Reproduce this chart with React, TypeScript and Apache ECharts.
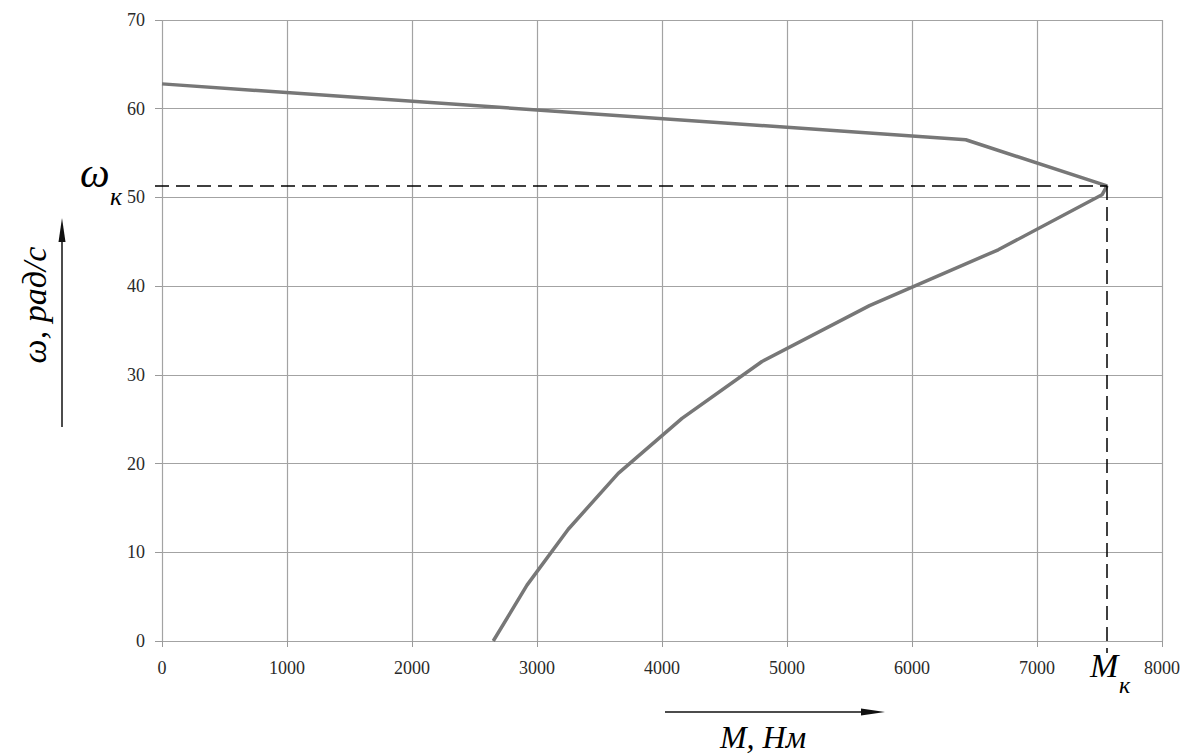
import React, { useEffect, useRef } from "react";
import * as echarts from "echarts";

const xTicks = [0, 1000, 2000, 3000, 4000, 5000, 6000, 7000, 8000];
const yTicks = [0, 10, 20, 30, 40, 50, 60, 70];
const torque = [0, 6430, 7560, 7520, 6690, 5660, 4800, 4160, 3650, 3250, 2920, 2650];
const omega = [62.8, 56.5, 51.3, 50.3, 44.1, 37.8, 31.5, 25.1, 18.9, 12.6, 6.3, 0];
const peakM = 7560;
const peakW = 51.3;

const SERIF = "'Liberation Serif', 'DejaVu Serif', serif";

export default function App() {
  const ref = useRef<HTMLDivElement>(null);
  useEffect(() => {
    if (!ref.current) return;
    const chart = echarts.init(ref.current, null, { renderer: "svg" });
    const data = torque.map((m, i) => [m, omega[i]]);
    chart.setOption({
      animation: false,
      backgroundColor: "#ffffff",
      grid: { left: 162, top: 20, width: 1000, height: 621 },
      xAxis: {
        type: "value",
        min: xTicks[0],
        max: xTicks[xTicks.length - 1],
        interval: xTicks[1] - xTicks[0],
        axisLine: { show: false },
        axisTick: { show: true, length: 6, lineStyle: { color: "#9a9a9a" } },
        splitLine: { show: true, lineStyle: { color: "#a3a3a3", width: 1.2 } },
        axisLabel: { color: "#2a2a2a", fontFamily: SERIF, fontSize: 18, margin: 18, formatter: (v: number) => String(v) },
      },
      yAxis: {
        type: "value",
        min: yTicks[0],
        max: yTicks[yTicks.length - 1],
        interval: yTicks[1] - yTicks[0],
        axisLine: { show: false },
        axisTick: { show: true, length: 7, lineStyle: { color: "#9a9a9a" } },
        splitLine: { show: true, lineStyle: { color: "#a3a3a3", width: 1.2 } },
        axisLabel: { color: "#2a2a2a", fontFamily: SERIF, fontSize: 18, margin: 17, formatter: (v: number) => String(v) },
      },
      series: [
        {
          type: "line",
          data,
          showSymbol: false,
          lineStyle: { color: "#777777", width: 3.5 },
          z: 5,
        },
      ],
    });

    const p = chart.convertToPixel({ gridIndex: 0 }, [peakM, peakW]) as number[];
    const base = chart.convertToPixel({ gridIndex: 0 }, [peakM, 0]) as number[];
    const dash = { stroke: "#000", lineWidth: 1.5, lineDash: [14, 7] };
    chart.setOption({
      graphic: [
        { type: "line", shape: { x1: 155, y1: p[1], x2: p[0], y2: p[1] }, style: dash, z: 10 },
        { type: "line", shape: { x1: p[0], y1: p[1], x2: p[0], y2: base[1] + 12 }, style: dash, z: 10 },
        // omega_k label
        { type: "text", x: 80, y: 152, style: { text: "ω", font: `italic 42px ${SERIF}`, fill: "#000" }, z: 20 },
        { type: "text", x: 110, y: 183, style: { text: "к", font: `italic 26px ${SERIF}`, fill: "#000" }, z: 20 },
        // M_k label
        { type: "text", x: 1090, y: 648, style: { text: "M", font: `italic 34px ${SERIF}`, fill: "#000" }, z: 20 },
        { type: "text", x: 1119, y: 673, style: { text: "к", font: `italic 24px ${SERIF}`, fill: "#000" }, z: 20 },
        // y axis title
        {
          type: "text",
          x: 34,
          y: 305,
          rotation: Math.PI / 2,
          style: { text: "ω, рад/с", font: `italic 34px ${SERIF}`, fill: "#000", align: "center", verticalAlign: "middle" },
          z: 20,
        },
        { type: "line", shape: { x1: 62, y1: 427, x2: 62, y2: 225 }, style: { stroke: "#111", lineWidth: 1.5 } },
        { type: "polygon", shape: { points: [[62, 218], [58.5, 242], [65.5, 242]] }, style: { fill: "#111" } },
        // x axis title
        {
          type: "text",
          x: 763,
          y: 737,
          style: { text: "M, Нм", font: `italic 32px ${SERIF}`, fill: "#000", align: "center", verticalAlign: "middle" },
          z: 20,
        },
        { type: "line", shape: { x1: 665, y1: 712, x2: 870, y2: 712 }, style: { stroke: "#111", lineWidth: 1.5 } },
        { type: "polygon", shape: { points: [[885, 712], [861, 708.5], [861, 715.5]] }, style: { fill: "#111" } },
      ],
    });
    return () => chart.dispose();
  }, []);
  return <div ref={ref} style={{ width: 1185, height: 756, position: "absolute", left: 0, top: 0 }} />;
}
